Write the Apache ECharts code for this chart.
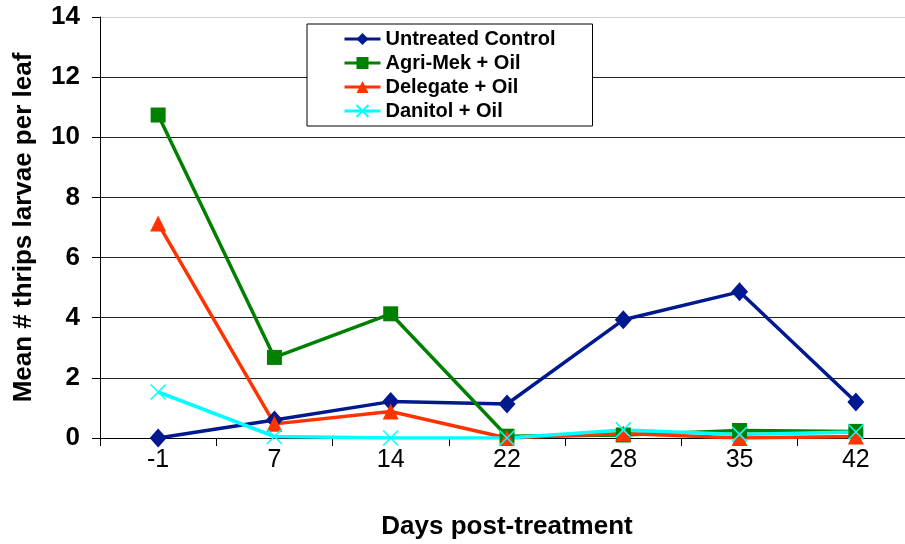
<!DOCTYPE html>
<html>
<head>
<meta charset="utf-8">
<script src="https://cdn.jsdelivr.net/npm/echarts@6/dist/echarts.min.js"></script>
<style>
html,body{margin:0;padding:0;background:#fff;}
#chart{width:905px;height:544px;}
</style>
</head>
<body>
<div id="chart"></div>
<script>
var categories = ['-1', '7', '14', '22', '28', '35', '42'];
var untreated = [0, 0.6, 1.21, 1.13, 3.93, 4.86, 1.2];
var agrimek = [10.74, 2.68, 4.13, 0.06, 0.1, 0.25, 0.22];
var delegate = [7.13, 0.47, 0.88, 0, 0.15, 0, 0.05];
var danitol = [1.53, 0.05, 0, 0, 0.27, 0.12, 0.2];
var yTicks = [0, 2, 4, 6, 8, 10, 12, 14];

var FONT = '"Liberation Sans", Arial, sans-serif';
var chart = echarts.init(document.getElementById('chart'), null, {renderer: 'canvas'});

function mkSeries(name, data, color, symbol, size, extra) {
  var s = {
    name: name,
    type: 'line',
    data: data,
    symbol: symbol,
    symbolSize: size,
    showSymbol: true,
    animation: false,
    lineStyle: {color: color, width: 3.5},
    itemStyle: {color: color, borderWidth: 0}
  };
  if (extra) { for (var k in extra) s[k] = extra[k]; }
  return s;
}

var option = {
  animation: false,
  backgroundColor: '#ffffff',
  grid: {left: 100, top: 17, width: 814, height: 421, containLabel: false, outerBoundsMode: 'none'},
  legend: {
    orient: 'vertical',
    left: 307,
    top: 24,
    backgroundColor: '#fff',
    borderColor: '#000',
    borderWidth: 1,
    padding: [5, 37, 5, 36],
    itemWidth: 36,
    itemHeight: 15,
    itemGap: 4,
    lineStyle: {width: 3},
    textStyle: {fontFamily: FONT, fontWeight: 'bold', fontSize: 20, color: '#000'},
    data: ['Untreated Control', 'Agri-Mek + Oil', 'Delegate + Oil', 'Danitol + Oil']
  },
  xAxis: {
    type: 'category',
    data: categories,
    boundaryGap: true,
    name: 'Days post-treatment',
    nameLocation: 'middle',
    nameGap: 76,
    nameTextStyle: {fontFamily: FONT, fontWeight: 'bold', fontSize: 26, color: '#000'},
    axisLine: {show: true, lineStyle: {color: '#000', width: 1}},
    axisTick: {show: true, interval: 0, length: 8, lineStyle: {color: '#000'}},
    axisLabel: {fontFamily: FONT, fontSize: 25, color: '#000', margin: 10, interval: 0}
  },
  yAxis: {
    type: 'value',
    min: 0,
    max: 14,
    interval: 2,
    name: 'Mean # thrips larvae per leaf',
    nameLocation: 'middle',
    nameGap: 63,
    nameTextStyle: {fontFamily: FONT, fontWeight: 'bold', fontSize: 26, color: '#000'},
    axisLine: {show: true, lineStyle: {color: '#000', width: 1}},
    axisTick: {show: true, length: 8, lineStyle: {color: '#000'}},
    axisLabel: {fontFamily: FONT, fontWeight: 'bold', fontSize: 26, color: '#000', margin: 20},
    splitLine: {show: true, lineStyle: {color: ['#000', '#222', '#222', '#222', '#222', '#222', '#222', '#d0d0d0'], width: 1}}
  },
  series: [
    mkSeries('Untreated Control', untreated, '#001890', 'diamond', [17, 19]),
    mkSeries('Agri-Mek + Oil', agrimek, '#008000', 'rect', 15),
    mkSeries('Delegate + Oil', delegate, '#FF3300', 'triangle', 16),
    mkSeries('Danitol + Oil', danitol, '#00FFFF', 'path://M0,0L10,10M10,0L0,10', 15,
      {itemStyle: {color: '#00FFFF', borderColor: '#00FFFF', borderWidth: 1.5}})
  ]
};
chart.setOption(option);
</script>
</body>
</html>
